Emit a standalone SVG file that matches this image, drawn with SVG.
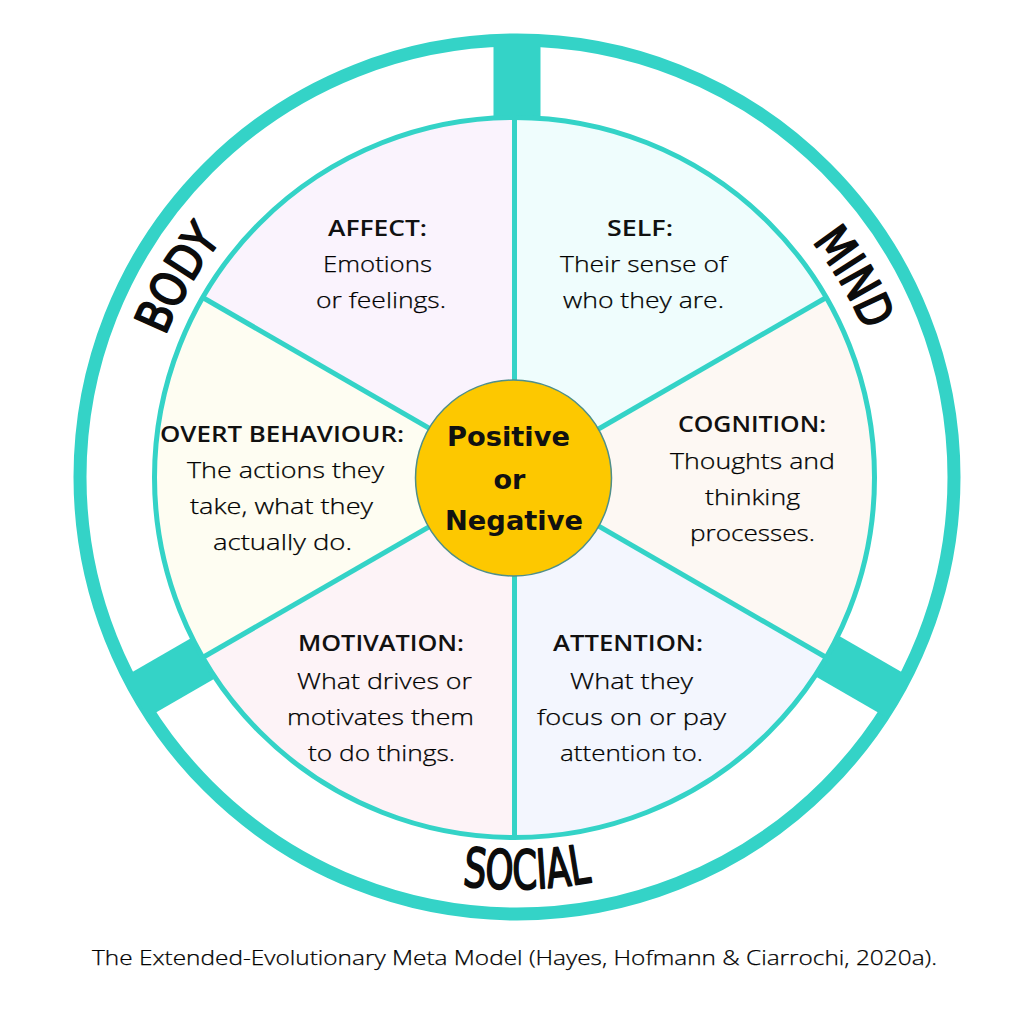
<svg xmlns="http://www.w3.org/2000/svg" xmlns:xlink="http://www.w3.org/1999/xlink" width="1024" height="1024" viewBox="0 0 1024 1024">
<style>
.teal{fill:#34d3c7}
.spoke{stroke:#34d3c7;stroke-width:5;fill:none}
.lbl{font-family:"Open Sans","Lato",sans-serif;font-size:22px;fill:#000;text-anchor:middle}
.ttl{font-weight:600;fill:#111}
.bd{font-weight:300;stroke:#000;stroke-width:0.25}
.ring{font-family:"DejaVu Sans Condensed","Liberation Sans Narrow",sans-serif;font-weight:normal;font-size:48px;fill:#0c0c0c;stroke:#0c0c0c;stroke-width:1.8;stroke-linejoin:round}
.ctr{font-family:"DejaVu Sans",sans-serif;font-weight:bold;font-size:27px;fill:#111;text-anchor:middle}
.cap{font-family:"Open Sans","Lato",sans-serif;font-weight:300;font-size:21px;fill:#000;stroke:#000;stroke-width:0.25;text-anchor:middle}
</style>
<defs>
<path id="topArc" d="M 138 477 A 378 378 0 0 1 894 477"/>
<path id="botArc" d="M 159.2 683 A 412 412 0 0 0 872.8 683"/>
</defs>
<rect width="1024" height="1024" fill="#ffffff"/>
<g id="outer-ring">
<circle cx="517" cy="477" r="437" fill="none" stroke="#34d3c7" stroke-width="13"/>
<rect class="teal" x="-23.5" y="-440" width="47" height="90" transform="translate(517,477)"/>
<rect class="teal" x="-23.5" y="-440" width="47" height="90" transform="translate(517,477) rotate(-120)"/>
<rect class="teal" x="-23.5" y="-440" width="47" height="90" transform="translate(517,477) rotate(120)"/>
</g>
<g id="sectors">
<circle cx="514.5" cy="477.5" r="360" fill="#ffffff"/>
<path id="sector-affect" d="M514.5 477.5 L202.73 297.5 A360 360 0 0 1 514.5 117.5 Z" fill="#faf3fd"/>
<path id="sector-self" d="M514.5 477.5 L514.5 117.5 A360 360 0 0 1 826.27 297.5 Z" fill="#effdfd"/>
<path id="sector-cognition" d="M514.5 477.5 L826.27 297.5 A360 360 0 0 1 826.27 657.5 Z" fill="#fdf8f3"/>
<path id="sector-attention" d="M514.5 477.5 L826.27 657.5 A360 360 0 0 1 514.5 837.5 Z" fill="#f3f6fe"/>
<path id="sector-motivation" d="M514.5 477.5 L514.5 837.5 A360 360 0 0 1 202.73 657.5 Z" fill="#fdf3f7"/>
<path id="sector-overt" d="M514.5 477.5 L202.73 657.5 A360 360 0 0 1 202.73 297.5 Z" fill="#fefdf2"/>
</g>
<g id="connectors">
<line class="spoke" x1="514.5" y1="477.5" x2="514.5" y2="117.5"/>
<line class="spoke" x1="514.5" y1="477.5" x2="514.5" y2="837.5"/>
<line class="spoke" x1="514.5" y1="477.5" x2="826.27" y2="297.5"/>
<line class="spoke" x1="514.5" y1="477.5" x2="826.27" y2="657.5"/>
<line class="spoke" x1="514.5" y1="477.5" x2="202.73" y2="297.5"/>
<line class="spoke" x1="514.5" y1="477.5" x2="202.73" y2="657.5"/>
<circle class="spoke" cx="514.5" cy="477.5" r="360"/>
</g>
<g id="ring-labels">
<text class="ring"><textPath xlink:href="#topArc" href="#topArc" startOffset="16.9%" text-anchor="middle" textLength="112" lengthAdjust="spacingAndGlyphs">BODY</textPath></text>
<text class="ring"><textPath xlink:href="#topArc" href="#topArc" startOffset="83.0%" text-anchor="middle" textLength="104" lengthAdjust="spacingAndGlyphs">MIND</textPath></text>
<text class="ring" style="font-size:54px"><textPath xlink:href="#botArc" href="#botArc" startOffset="51.3%" text-anchor="middle" textLength="130" lengthAdjust="spacingAndGlyphs">SOCIAL</textPath></text>
</g>
<g id="node-affect">
<text class="lbl ttl" x="377.5" y="236" textLength="99" lengthAdjust="spacingAndGlyphs">AFFECT:</text>
<text class="lbl bd" x="377.5" y="272" textLength="109" lengthAdjust="spacingAndGlyphs">Emotions</text>
<text class="lbl bd" x="381" y="308" textLength="130" lengthAdjust="spacingAndGlyphs">or feelings.</text>
</g>
<g id="node-self">
<text class="lbl ttl" x="640" y="236" textLength="66" lengthAdjust="spacingAndGlyphs">SELF:</text>
<text class="lbl bd" x="643.5" y="272" textLength="167" lengthAdjust="spacingAndGlyphs">Their sense of</text>
<text class="lbl bd" x="643.5" y="308" textLength="161" lengthAdjust="spacingAndGlyphs">who they are.</text>
</g>
<g id="node-cognition">
<text class="lbl ttl" x="752" y="432" textLength="148" lengthAdjust="spacingAndGlyphs">COGNITION:</text>
<text class="lbl bd" x="752.5" y="469" textLength="165" lengthAdjust="spacingAndGlyphs">Thoughts and</text>
<text class="lbl bd" x="752.5" y="505" textLength="95" lengthAdjust="spacingAndGlyphs">thinking</text>
<text class="lbl bd" x="752.5" y="541" textLength="125" lengthAdjust="spacingAndGlyphs">processes.</text>
</g>
<g id="node-overt">
<text class="lbl ttl" x="282" y="442" textLength="244" lengthAdjust="spacingAndGlyphs">OVERT BEHAVIOUR:</text>
<text class="lbl bd" x="285.5" y="478" textLength="197" lengthAdjust="spacingAndGlyphs">The actions they</text>
<text class="lbl bd" x="281.5" y="514" textLength="183" lengthAdjust="spacingAndGlyphs">take, what they</text>
<text class="lbl bd" x="282.5" y="550" textLength="139" lengthAdjust="spacingAndGlyphs">actually do.</text>
</g>
<g id="node-motivation">
<text class="lbl ttl" x="381" y="651" textLength="166" lengthAdjust="spacingAndGlyphs">MOTIVATION:</text>
<text class="lbl bd" x="384.5" y="689" textLength="175" lengthAdjust="spacingAndGlyphs">What drives or</text>
<text class="lbl bd" x="380.5" y="725" textLength="187" lengthAdjust="spacingAndGlyphs">motivates them</text>
<text class="lbl bd" x="381.5" y="761" textLength="147" lengthAdjust="spacingAndGlyphs">to do things.</text>
</g>
<g id="node-attention">
<text class="lbl ttl" x="628" y="651" textLength="150" lengthAdjust="spacingAndGlyphs">ATTENTION:</text>
<text class="lbl bd" x="631.5" y="689" textLength="123" lengthAdjust="spacingAndGlyphs">What they</text>
<text class="lbl bd" x="631.5" y="725" textLength="189" lengthAdjust="spacingAndGlyphs">focus on or pay</text>
<text class="lbl bd" x="631.5" y="761" textLength="143" lengthAdjust="spacingAndGlyphs">attention to.</text>
</g>
<g id="node-center">
<circle cx="513.5" cy="478" r="98" fill="#fdc800" stroke="#4f8f8a" stroke-width="1.5"/>
<text class="ctr" x="508.5" y="446" textLength="123" lengthAdjust="spacingAndGlyphs">Positive</text>
<text class="ctr" x="509.5" y="489">or</text>
<text class="ctr" x="514" y="530" textLength="138" lengthAdjust="spacingAndGlyphs">Negative</text>
</g>
<g id="caption">
<text class="cap" x="514.5" y="965" textLength="845" lengthAdjust="spacingAndGlyphs">The Extended-Evolutionary Meta Model (Hayes, Hofmann &amp; Ciarrochi, 2020a).</text>
</g>
</svg>
